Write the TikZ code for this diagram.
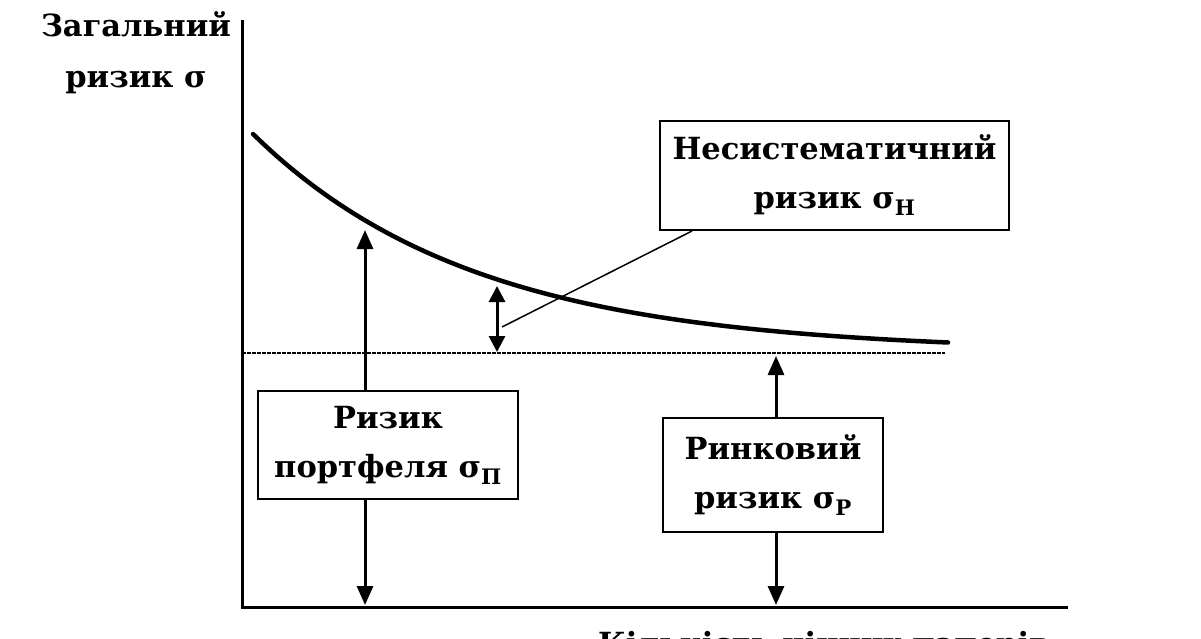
\documentclass[tikz,border=0pt]{standalone}
\usepackage{fontspec}
\setmainfont{DejaVu Serif}
\usetikzlibrary{arrows.meta}

\begin{document}
\begin{tikzpicture}[x=1pt, y=-1pt,
  lbl/.style={font=\bfseries\fontsize{30.5}{51}\selectfont, align=center, inner sep=0pt},
  rbox/.style={draw, line width=2pt, fill=white, align=center, inner sep=0pt,
    font=\bfseries\fontsize{30.5}{49}\selectfont},
  axis/.style={line width=3pt},
  riskline/.style={line width=4.5pt, line cap=round},
  arr/.style={line width=3pt, -{Triangle[length=19pt,width=16pt]}},
  dblarr/.style={line width=3pt, {Triangle[length=16pt,width=16pt]}-{Triangle[length=16pt,width=16pt]}}]
\useasboundingbox (0,0) rectangle (1201,639);
% axes
\coordinate (orig) at (242,607);
\coordinate (ytop) at (242,20);
\coordinate (xend) at (1068,607);
\draw[axis] (ytop) -- (orig) -- (xend);
\node[lbl] (ylab) at (136,53) {Загальний\\ризик σ};
\node[lbl, anchor=base west] (xlab) at (598,654) {Кількість цінних паперів};
% market risk level
\coordinate (mkt0) at (242,353);
\coordinate (mkt1) at (945,353);
\draw[line width=2.5pt, dash pattern=on 4pt off 1pt] (mkt0) -- (mkt1);
% total risk curve
\draw[riskline] plot[domain=253:948, samples=90] (\x, {352-218*exp(-(\x-253)/222)});
% boxes
\node[rbox, minimum width=260pt, minimum height=108pt] (portf) at (388,445) {Ризик\\портфеля σ\textsubscript{П}};
\node[rbox, minimum width=349pt, minimum height=109pt] (nesyst) at (834.5,175.5) {Несистематичний\\ризик σ\textsubscript{Н}};
\node[rbox, minimum width=220pt, minimum height=114pt] (rynk) at (773,475) {Ринковий\\ризик σ\textsubscript{Р}};
% arrows
\coordinate (ptop) at (365,230);
\coordinate (pbot) at (365,605);
\draw[arr] (portf.north -| ptop) -- (ptop);
\draw[arr] (portf.south -| pbot) -- (pbot);
\coordinate (rtop) at (776,356);
\coordinate (rbot) at (776,605);
\draw[arr] (rynk.north -| rtop) -- (rtop);
\draw[arr] (rynk.south -| rbot) -- (rbot);
\coordinate (ntop) at (497,286);
\coordinate (nbot) at (497,352);
\draw[dblarr] (nbot) -- (ntop);
\coordinate (lead) at (502,327);
\draw[line width=1.5pt] (lead) -- ([xshift=33pt]nesyst.south west);
\end{tikzpicture}
\end{document}
